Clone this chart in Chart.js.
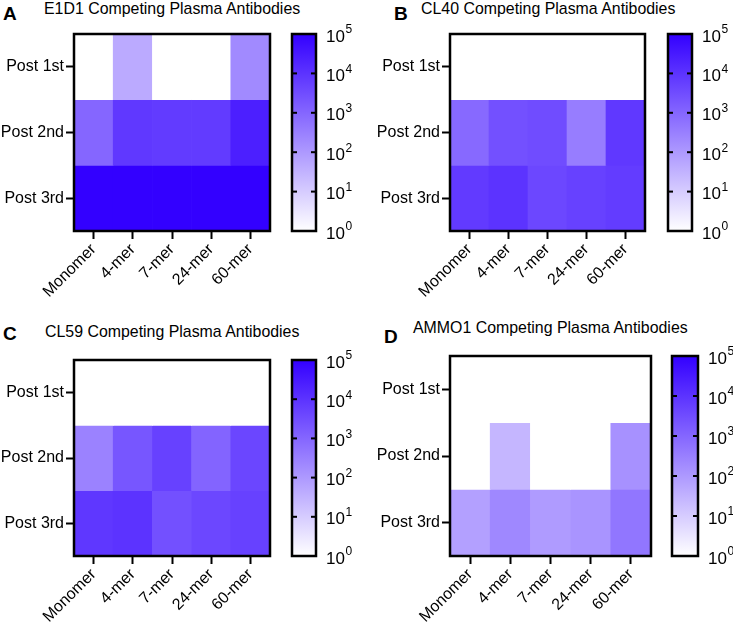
<!DOCTYPE html>
<html>
<head>
<meta charset="utf-8">
<script src="https://cdn.jsdelivr.net/npm/chart.js@4.4.1/dist/chart.umd.min.js"></script>
<style>
  body { margin: 0; background: #fff; }
  #fig { position: relative; width: 733px; height: 630px; overflow: hidden; font-family: 'Liberation Sans', Arial, sans-serif; }
  #fig canvas { position: absolute; }
  .letter { position: absolute; font-weight: bold; font-size: 19px; line-height: 20px; }
  .title { position: absolute; font-size: 15.9px; line-height: 18px; white-space: nowrap; }
</style>
</head>
<body>
<div id="fig">
  <div class="letter" style="left:3px;top:4px">A</div>
  <div class="title" style="left:44px;top:0px">E1D1 Competing Plasma Antibodies</div>
  <div class="letter" style="left:394px;top:4px">B</div>
  <div class="title" style="left:421px;top:0px">CL40 Competing Plasma Antibodies</div>
  <div class="letter" style="left:3px;top:324px">C</div>
  <div class="title" style="left:45px;top:323px">CL59 Competing Plasma Antibodies</div>
  <div class="letter" style="left:384px;top:327px">D</div>
  <div class="title" style="left:413px;top:319px">AMMO1 Competing Plasma Antibodies</div>

  <canvas id="heatA" width="285" height="315" style="left:0;top:0"></canvas>
  <canvas id="barA" width="80" height="315" style="left:285px;top:0"></canvas>
  <canvas id="heatB" width="290" height="315" style="left:366px;top:0"></canvas>
  <canvas id="barB" width="77" height="315" style="left:656px;top:0"></canvas>
  <canvas id="heatC" width="285" height="315" style="left:0;top:315px"></canvas>
  <canvas id="barC" width="80" height="315" style="left:285px;top:315px"></canvas>
  <canvas id="heatD" width="295" height="315" style="left:366px;top:315px"></canvas>
  <canvas id="barD" width="72" height="315" style="left:661px;top:315px"></canvas>
</div>
<script>
// categorie e righe
const columns = ['Monomer', '4-mer', '7-mer', '24-mer', '60-mer']
const rows = ['Post 1st', 'Post 2nd', 'Post 3rd']

const e1d1Values = [
  [1, 47, 1, 1, 200],
  [1000, 8000, 7000, 7000, 25000],
  [100000, 100000, 100000, 100000, 100000],
]
const cl40Values = [
  [1, 1, 1, 1, 1],
  [870, 2700, 3200, 350, 8000],
  [7200, 10000, 4000, 5400, 6600],
]
const cl59Values = [
  [1, 1, 1, 1, 1],
  [280, 2100, 5400, 1100, 4300],
  [8300, 10000, 2700, 4000, 5400],
]
const ammo1Values = [
  [1, 1, 1, 1, 1],
  [1, 27, 1, 1, 145],
  [72, 220, 90, 125, 490],
]

// tick della scala colori
const cbTicks = [1, 10, 100, 1000, 10000, 100000]

const blue = [51, 0, 255]
const FONT = "'Liberation Sans', Arial, sans-serif"
Chart.defaults.font.family = FONT
Chart.defaults.color = '#000'

function heatColor(v) {
  const lo = Math.log10(cbTicks[0])
  const hi = Math.log10(cbTicks[cbTicks.length - 1])
  const t = Math.min(Math.max((Math.log10(v) - lo) / (hi - lo), 0), 1)
  const r = Math.round(255 + (blue[0] - 255) * t)
  const g = Math.round(255 + (blue[1] - 255) * t)
  const b = Math.round(255 + (blue[2] - 255) * t)
  return `rgb(${r},${g},${b})`
}

// cornice nera attorno all'area del grafico
const framePlugin = {
  id: 'frame',
  afterDraw(chart) {
    const a = chart.chartArea
    const ctx = chart.ctx
    ctx.save()
    ctx.strokeStyle = '#000'
    ctx.lineWidth = 2.5
    ctx.strokeRect(a.left, a.top, a.right - a.left, a.bottom - a.top)
    ctx.restore()
  },
}

function makeHeat(id, values, pad, yW, xH) {
  const n = rows.length
  new Chart(document.getElementById(id), {
    type: 'bar',
    data: {
      labels: columns,
      datasets: rows.map((row, i) => ({
        label: row,
        data: values[i].map(() => [n - 1 - i, n - i]),
        backgroundColor: values[i].map(heatColor),
        borderWidth: 0,
        barPercentage: 1,
        categoryPercentage: 1,
        grouped: false,
      })),
    },
    options: {
      responsive: false,
      animation: false,
      events: [],
      layout: { padding: { top: pad.top, right: pad.right, bottom: 0, left: 0 } },
      plugins: { legend: { display: false }, tooltip: { enabled: false } },
      scales: {
        x: {
          grid: { drawOnChartArea: false, offset: false, tickLength: 8, tickWidth: 2, tickColor: '#000' },
          border: { color: '#000', width: 2 },
          ticks: { font: { size: 16 }, minRotation: 45, maxRotation: 45, padding: 1, autoSkip: false },
          afterFit(s) { s.height = xH },
        },
        y: {
          min: 0,
          max: n,
          afterBuildTicks(s) {
            s.ticks = rows.map((r, i) => ({ value: i + 0.5 }))
          },
          grid: { drawOnChartArea: false, tickLength: 8, tickWidth: 2, tickColor: '#000' },
          border: { color: '#000', width: 2 },
          ticks: {
            font: { size: 16 },
            padding: 2,
            callback: (v) => rows[Math.round(n - 0.5 - v)],
          },
          afterFit(s) { s.width = yW },
        },
      },
    },
    plugins: [framePlugin],
  })
}

// barra dei colori con etichette 10^n
const colorbarPlugin = {
  id: 'colorbar',
  afterDraw(chart) {
    const a = chart.chartArea
    const ctx = chart.ctx
    const y = chart.scales.y
    ctx.save()
    ctx.strokeStyle = '#000'
    ctx.lineWidth = 2.5
    ctx.strokeRect(a.left, a.top, a.right - a.left, a.bottom - a.top)
    ctx.fillStyle = '#000'
    cbTicks.forEach((v, i) => {
      const py = y.getPixelForValue(v)
      if (i > 0 && i < cbTicks.length - 1) {
        ctx.fillRect(a.left, py - 1, 5, 2)
        ctx.fillRect(a.right - 5, py - 1, 5, 2)
      }
      const x = a.right + 10
      ctx.textAlign = 'left'
      ctx.textBaseline = 'middle'
      ctx.font = `17px ${FONT}`
      ctx.fillText('10', x, py + 3)
      const w = ctx.measureText('10').width
      ctx.font = `12px ${FONT}`
      ctx.fillText(String(Math.round(Math.log10(v))), x + w + 0.5, py - 4)
    })
    ctx.restore()
  },
}

function makeBar(id, pad, barW, axisW) {
  new Chart(document.getElementById(id), {
    type: 'bar',
    data: {
      labels: [''],
      datasets: [{
        data: [[cbTicks[0], cbTicks[cbTicks.length - 1]]],
        backgroundColor: (c) => {
          const a = c.chart.chartArea
          if (!a) return '#fff'
          const g = c.chart.ctx.createLinearGradient(0, a.bottom, 0, a.top)
          g.addColorStop(0, '#fff')
          g.addColorStop(1, heatColor(cbTicks[cbTicks.length - 1]))
          return g
        },
        borderWidth: 0,
        barPercentage: 1,
        categoryPercentage: 1,
      }],
    },
    options: {
      responsive: false,
      animation: false,
      events: [],
      layout: { padding: { top: pad.top, left: pad.left, bottom: pad.bottom, right: 0 } },
      plugins: { legend: { display: false }, tooltip: { enabled: false } },
      scales: {
        x: { display: false },
        y: {
          type: 'logarithmic',
          position: 'right',
          min: cbTicks[0],
          max: cbTicks[cbTicks.length - 1],
          afterBuildTicks(s) { s.ticks = cbTicks.map((v) => ({ value: v })) },
          grid: { display: false },
          border: { display: false },
          ticks: { display: false },
          afterFit(s) { s.width = axisW },
        },
      },
    },
    plugins: [colorbarPlugin],
  })
}

makeHeat('heatA', e1d1Values, { top: 34, right: 15 }, 74, 84)
makeBar('barA', { top: 34, left: 7, bottom: 84 }, 24, 49)
makeHeat('heatB', cl40Values, { top: 34, right: 11 }, 84, 84)
makeBar('barB', { top: 34, left: 12, bottom: 84 }, 24, 41)
makeHeat('heatC', cl59Values, { top: 45, right: 15 }, 74, 74)
makeBar('barC', { top: 45, left: 7, bottom: 74 }, 24, 49)
makeHeat('heatD', ammo1Values, { top: 41, right: 10 }, 84, 74)
makeBar('barD', { top: 41, left: 11, bottom: 74 }, 26, 35)
</script>
</body>
</html>
